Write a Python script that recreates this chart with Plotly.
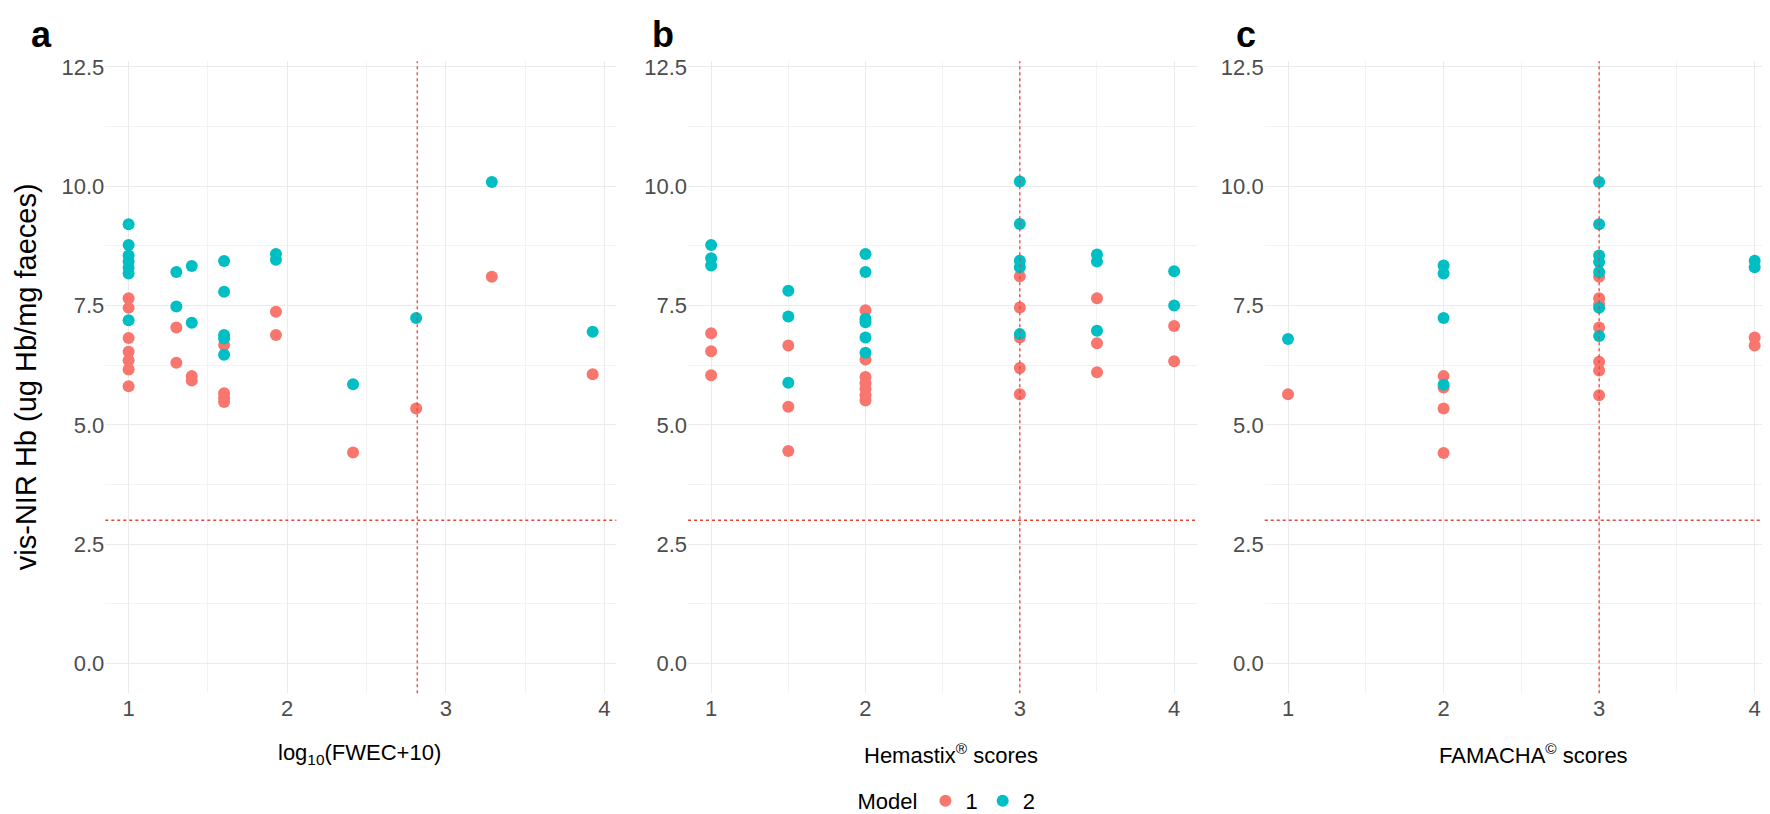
import plotly.graph_objects as go

# ---------------- data ----------------
# Panel a: log10(FWEC+10)
a_m1_x = [1, 1, 1, 1, 1, 1, 1, 1.301, 1.301, 1.398, 1.398, 1.602, 1.602, 1.602, 1.602,
          1.929, 1.929, 2.415, 2.813, 3.29, 3.926]
a_m1_y = [7.65, 7.45, 6.82, 6.53, 6.35, 6.16, 5.81, 7.04, 6.30, 6.02, 5.93, 6.67, 5.66, 5.56, 5.48,
          7.37, 6.88, 4.42, 5.34, 8.10, 6.06]
a_m2_x = [1, 1, 1, 1, 1, 1, 1, 1.301, 1.301, 1.398, 1.398, 1.602, 1.602, 1.602, 1.602, 1.602,
          1.929, 1.929, 2.415, 2.813, 3.29, 3.926]
a_m2_y = [9.20, 8.77, 8.55, 8.42, 8.29, 8.17, 7.19, 8.20, 7.48, 8.33, 7.14, 8.43, 7.79, 6.88, 6.81, 6.47,
          8.58, 8.46, 5.85, 7.24, 10.09, 6.95]

# Panel b: Hemastix scores
b_m1_x = [1, 1, 1, 1.5, 1.5, 1.5, 2, 2, 2, 2, 2, 2, 2, 3, 3, 3, 3, 3, 3.5, 3.5, 3.5, 4, 4]
b_m1_y = [6.92, 6.54, 6.04, 6.66, 5.38, 4.45, 7.40, 6.37, 6.00, 5.87, 5.75, 5.62, 5.51,
          8.11, 7.46, 6.83, 6.19, 5.64, 7.65, 6.71, 6.10, 7.07, 6.33]
b_m2_x = [1, 1, 1, 1.5, 1.5, 1.5, 2, 2, 2, 2, 2, 2, 3, 3, 3, 3, 3, 3.5, 3.5, 3.5, 4, 4]
b_m2_y = [8.77, 8.49, 8.34, 7.81, 7.27, 5.88, 8.58, 8.20, 7.22, 7.15, 6.83, 6.51,
          10.10, 9.21, 8.44, 8.30, 6.90, 8.57, 8.42, 6.97, 8.22, 7.50]

# Panel c: FAMACHA scores
c_m1_x = [1, 2, 2, 2, 2, 3, 3, 3, 3, 3, 3, 3, 4, 4]
c_m1_y = [5.64, 6.02, 5.78, 5.34, 4.41, 8.10, 7.65, 7.52, 7.04, 6.32, 6.14, 5.62, 6.83, 6.66]
c_m2_x = [1, 2, 2, 2, 2, 3, 3, 3, 3, 3, 3, 3, 4, 4]
c_m2_y = [6.80, 8.34, 8.17, 7.24, 5.84, 10.09, 9.20, 8.55, 8.41, 8.20, 7.45, 6.86, 8.44, 8.30]

x_ticks = [1, 2, 3, 4]
y_ticks = [0, 2.5, 5, 7.5, 10, 12.5]
y_ticklabels = ["0.0", "2.5", "5.0", "7.5", "10.0", "12.5"]
x_titles = ["log<sub>10</sub>(FWEC+10)", "Hemastix<sup>®</sup> scores", "FAMACHA<sup>©</sup> scores"]
panel_letters = ["a", "b", "c"]
v_lines = [2.82, 3, 3]
h_line = 3
model_names = ["1", "2"]
colors = ["#F8766D", "#00BFC4"]

# ---------------- layout ----------------
W, H = 1770, 814
FONT = "Liberation Sans, Arial, sans-serif"
x_domains = [(97.3 / W, 608.3 / W), (680 / W, 1189.3 / W), (1256.7 / W, 1.0)]
x_ranges = [[0.853, 4.075], [0.85, 4.15], [0.85, 4.15]]
title_cx = [351 / W, 943 / W, 1525 / W]
y_domain = [1 - 691 / H, 1 - 47 / H]
y_range = [-0.625, 12.62]

fig = go.Figure()
panels = [(a_m1_x, a_m1_y, a_m2_x, a_m2_y), (b_m1_x, b_m1_y, b_m2_x, b_m2_y),
          (c_m1_x, c_m1_y, c_m2_x, c_m2_y)]

for i, (x1, y1, x2, y2) in enumerate(panels):
    suf = "" if i == 0 else str(i + 1)
    for k, (xs, ys) in enumerate([(x1, y1), (x2, y2)]):
        fig.add_trace(go.Scatter(
            x=xs, y=ys, mode="markers", xaxis="x" + suf, yaxis="y" + suf,
            marker=dict(color=colors[k], size=12, line=dict(width=0)),
            name=model_names[k], legendgroup=model_names[k], showlegend=(i == 0)))
    axis_common = dict(showline=False, zeroline=False, ticks="",
                       tickfont=dict(family=FONT, size=22, color="#4D4D4D"),
                       gridcolor="#EBEBEB", gridwidth=1.3)
    fig.layout["xaxis" + suf] = dict(
        axis_common, domain=list(x_domains[i]), range=x_ranges[i],
        tickvals=x_ticks, anchor="y" + suf,
        minor=dict(tick0=0.5, dtick=0.5, showgrid=True, gridcolor="#F3F3F3", gridwidth=1))
    fig.layout["yaxis" + suf] = dict(
        axis_common, domain=y_domain, range=y_range, anchor="x" + suf,
        tickvals=y_ticks, ticktext=y_ticklabels,
        minor=dict(tick0=0, dtick=1.25, showgrid=True, gridcolor="#F3F3F3", gridwidth=1))
    # reference lines
    fig.add_shape(type="line", xref="x" + suf + " domain" if suf else "x domain",
                  yref="y" + suf, x0=0, x1=1, y0=h_line, y1=h_line,
                  line=dict(color="#E8453C", width=1.3, dash="dot"))
    fig.add_shape(type="line", xref="x" + suf, yref="y" + suf + " domain" if suf else "y domain",
                  x0=v_lines[i], x1=v_lines[i], y0=0, y1=1,
                  line=dict(color="#E8453C", width=1.3, dash="dot"))
    # x title
    fig.add_annotation(text=x_titles[i], x=title_cx[i], y=1 - 753 / H, xref="paper", yref="paper",
                       showarrow=False, font=dict(family=FONT, size=22, color="black"),
                       xanchor="center", yanchor="middle")

# panel letters
for lx, lt in zip([33 / W, 655 / W, 1238 / W], panel_letters):
    fig.add_annotation(text="<b>" + lt + "</b>", x=lx, y=1 - 20 / H, xref="paper", yref="paper",
                       showarrow=False, font=dict(family=FONT, size=36, color="black"),
                       xanchor="center", yanchor="middle")

# y title
fig.add_annotation(text="vis-NIR Hb (ug Hb/mg faeces)", x=18 / W, y=1 - 369 / H,
                   xref="paper", yref="paper", showarrow=False, textangle=-90,
                   font=dict(family=FONT, size=29, color="black"),
                   xanchor="center", yanchor="middle")

fig.update_layout(
    width=W, height=H, margin=dict(l=0, r=0, t=0, b=0),
    plot_bgcolor="white", paper_bgcolor="white",
    font=dict(family=FONT),
    legend=dict(orientation="h", x=940 / W, xanchor="center", y=1 - 801 / H, yanchor="middle",
                title=dict(text="Model", font=dict(family=FONT, size=22, color="black")),
                font=dict(family=FONT, size=22, color="black"),
                itemwidth=30, tracegroupgap=0),
)

fig.write_html("out.html")
